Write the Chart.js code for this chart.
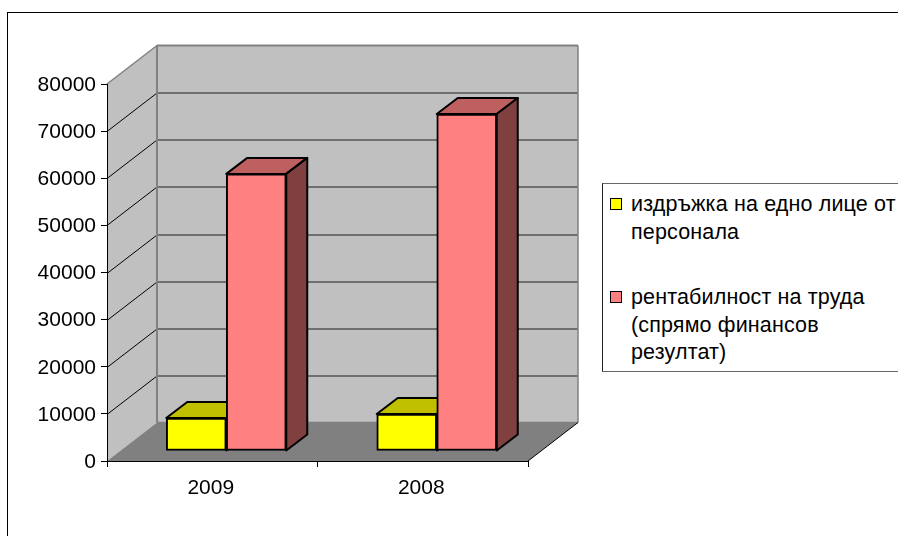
<!DOCTYPE html>
<html lang="bg">
<head>
    <meta charset="UTF-8">
    <title>Издръжка и рентабилност</title>
    <script src="https://cdn.jsdelivr.net/npm/chart.js"></script>
    <style>
        html, body { margin: 0; padding: 0; background: #fff; overflow: hidden; }
        #frame { position: absolute; left: 7px; top: 12px; width: 900px; height: 600px; border: 1px solid #000; }
        #myChart { position: absolute; left: 0; top: 0; }
        #legend {
            position: absolute; left: 602px; top: 183px; width: 320px; height: 187px;
            border: 1px solid #666; border-left-color: #222; background: #fff; box-sizing: content-box;
            font: 21.5px/27.5px "Liberation Sans", Arial, sans-serif; letter-spacing: 0.15px; color: #000;
        }
        .item { position: absolute; left: 28px; white-space: pre-line; }
        .swatch { position: absolute; left: 7px; width: 10px; height: 10px; border: 1.5px solid #000; }
    </style>
</head>
<body>
    <div id="frame"></div>
    <canvas id="myChart" width="898" height="536"></canvas>
    <div id="legend"></div>
    <script>
    const categories = ['2009', '2008'];
    const upkeepValues = [7000, 7850];
    const profitValues = [58800, 71500];
    const seriesNames = ['издръжка на едно лице от\nперсонала', 'рентабилност на труда\n(спрямо финансов\nрезултат)'];
    const yMax = 80000;
    const yStep = 10000;

    const frontColors = ['#FFFF00', '#FF8080'];
    const topColors = ['#C0C000', '#BF6060'];
    const sideColors = ['#808000', '#804040'];

    // depth of the box and of the bars, in pixels
    const wallDx = 50, wallDy = -38.5;
    const barShiftX = 14, barShiftY = -10;
    const barDx = 21, barDy = -16;

    function poly(ctx, pts, fill, stroke, lw) {
        ctx.beginPath();
        pts.forEach((p, i) => i ? ctx.lineTo(p[0], p[1]) : ctx.moveTo(p[0], p[1]));
        ctx.closePath();
        if (fill) { ctx.fillStyle = fill; ctx.fill(); }
        if (stroke) { ctx.strokeStyle = stroke; ctx.lineWidth = lw; ctx.stroke(); }
    }

    function line(ctx, x1, y1, x2, y2, color, lw) {
        ctx.beginPath();
        ctx.moveTo(x1, y1);
        ctx.lineTo(x2, y2);
        ctx.strokeStyle = color;
        ctx.lineWidth = lw;
        ctx.stroke();
    }

    const box3d = {
        id: 'box3d',
        beforeDraw(chart) {
            const ctx = chart.ctx, a = chart.chartArea, y = chart.scales.y;
            const L = a.left, R = a.right, T = a.top, B = a.bottom;
            ctx.save();
            poly(ctx, [[L + wallDx, T + wallDy], [R + wallDx, T + wallDy], [R + wallDx, B + wallDy], [L + wallDx, B + wallDy]], '#C0C0C0');
            poly(ctx, [[L, T], [L + wallDx, T + wallDy], [L + wallDx, B + wallDy], [L, B]], '#C0C0C0');
            poly(ctx, [[L, B], [L + wallDx, B + wallDy], [R + wallDx, B + wallDy], [R, B]], '#808080');
            for (let v = yStep; v < yMax; v += yStep) {
                const py = Math.round(y.getPixelForValue(v)) + 0.5;
                line(ctx, L, py, L + wallDx, py + wallDy, '#000', 1);
                line(ctx, L + wallDx, py + wallDy, R + wallDx, py + wallDy, '#555', 1.5);
            }
            line(ctx, L, T, L + wallDx, T + wallDy, '#808080', 1.5);
            line(ctx, L + wallDx, T + wallDy, R + wallDx, T + wallDy, '#808080', 2);
            line(ctx, L + wallDx, T + wallDy, L + wallDx, B + wallDy, '#808080', 2);
            line(ctx, R + wallDx, T + wallDy, R + wallDx, B + wallDy, '#808080', 1.5);
            line(ctx, L + wallDx, B + wallDy, R + wallDx, B + wallDy, '#808080', 1.5);
            line(ctx, R, B, R + wallDx, B + wallDy, '#000', 1);
            ctx.restore();
        },
        beforeDatasetsDraw(chart) {
            const ctx = chart.ctx;
            ctx.save();
            ctx.lineJoin = 'round';
            chart.data.datasets.forEach((ds, i) => {
                chart.getDatasetMeta(i).data.forEach(bar => {
                    const l = bar.x - bar.width / 2 + barShiftX, r = bar.x + bar.width / 2 + barShiftX;
                    const t = bar.y + barShiftY, b = bar.base + barShiftY;
                    poly(ctx, [[l, t], [l + barDx, t + barDy], [r + barDx, t + barDy], [r, t]], topColors[i], '#000', 2);
                    poly(ctx, [[r, t], [r + barDx, t + barDy], [r + barDx, b + barDy], [r, b]], sideColors[i], '#000', 2);
                });
            });
            ctx.restore();
            // front faces are the library's own bars, moved into the box
            ctx.save();
            ctx.translate(barShiftX, barShiftY);
        },
        afterDatasetsDraw(chart) {
            chart.ctx.restore();
        }
    };

    const valueSeries = [upkeepValues, profitValues];
    new Chart(document.getElementById('myChart').getContext('2d'), {
        type: 'bar',
        plugins: [box3d],
        data: {
            labels: categories,
            datasets: valueSeries.map((vals, i) => ({
                label: seriesNames[i],
                data: vals,
                backgroundColor: frontColors[i],
                borderColor: '#000',
                borderWidth: 2,
                borderSkipped: false,
                barThickness: 60,
                clip: false
            }))
        },
        options: {
            responsive: false,
            animation: false,
            layout: { padding: { left: 0, top: 84, right: 370, bottom: 35 } },
            plugins: { legend: { display: false }, tooltip: { enabled: false } },
            scales: {
                x: {
                    afterFit(s) { s.height = 40; },
                    grid: { drawOnChartArea: false, color: '#000', tickLength: 6 },
                    border: { color: '#000', width: 1 },
                    ticks: { color: '#000', padding: 9, labelOffset: -1.5, maxRotation: 0, font: { family: 'Liberation Sans', size: 21 } }
                },
                y: {
                    min: 0,
                    max: yMax,
                    afterFit(s) { s.width = 107; },
                    grid: { drawOnChartArea: false, color: '#000', tickLength: 6 },
                    border: { color: '#000', width: 1 },
                    ticks: {
                        stepSize: yStep,
                        color: '#000',
                        padding: 5,
                        labelOffset: 1,
                        font: { family: 'Liberation Sans', size: 21 },
                        callback: v => String(v)
                    }
                }
            }
        }
    });

    // legend box, runs off the right edge like the original
    const legend = document.getElementById('legend');
    const itemTops = [7, 100];
    seriesNames.forEach((name, i) => {
        const sw = document.createElement('div');
        sw.className = 'swatch';
        sw.style.top = (itemTops[i] + 7) + 'px';
        sw.style.background = frontColors[i];
        legend.appendChild(sw);
        const t = document.createElement('div');
        t.className = 'item';
        t.style.top = itemTops[i] + 'px';
        t.textContent = name;
        legend.appendChild(t);
    });
    </script>
</body>
</html>
